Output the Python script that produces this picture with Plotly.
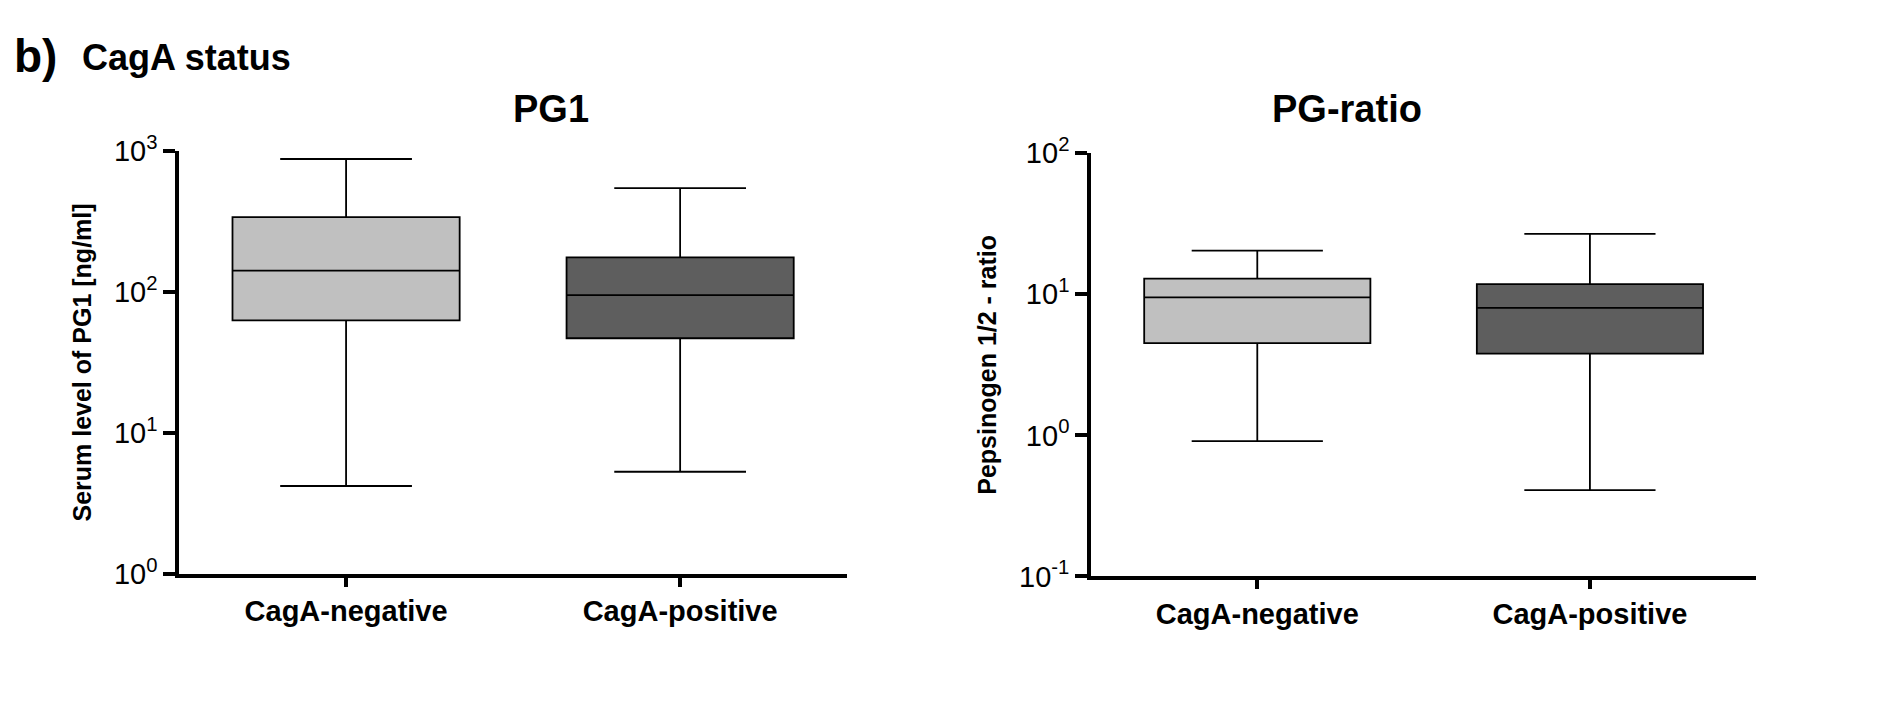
import plotly.graph_objects as go

groups = ["CagA-negative", "CagA-positive"]
colors = ["#c0c0c0", "#5e5e5e"]

# PG1 [ng/ml]
pg1_low = [4.2, 5.3]
pg1_q1 = [63, 47]
pg1_med = [142, 95]
pg1_q3 = [340, 176]
pg1_high = [880, 547]

# PG-ratio
pr_low = [0.91, 0.41]
pr_q1 = [4.5, 3.8]
pr_med = [9.5, 8.0]
pr_q3 = [12.9, 11.8]
pr_high = [20.4, 26.8]

fig = go.Figure()
for i, g in enumerate(groups):
    fig.add_trace(go.Box(x=[g], q1=[pg1_q1[i]], median=[pg1_med[i]], q3=[pg1_q3[i]],
                         lowerfence=[pg1_low[i]], upperfence=[pg1_high[i]],
                         fillcolor=colors[i], line=dict(color="black", width=1.8),
                         width=0.68, whiskerwidth=0.58, xaxis="x", yaxis="y", showlegend=False))
    fig.add_trace(go.Box(x=[g], q1=[pr_q1[i]], median=[pr_med[i]], q3=[pr_q3[i]],
                         lowerfence=[pr_low[i]], upperfence=[pr_high[i]],
                         fillcolor=colors[i], line=dict(color="black", width=1.8),
                         width=0.68, whiskerwidth=0.58, xaxis="x2", yaxis="y2", showlegend=False))

xax = dict(type="category", range=[-0.5, 1.5], showline=True, linecolor="black", linewidth=3.5,
           ticks="outside", ticklen=9, tickwidth=3.5, tickcolor="black",
           tickfont=dict(size=29, color="black"), showgrid=False,
           tickprefix="<b>", ticksuffix="</b>")
yax = dict(type="log", showline=True, linecolor="black", linewidth=3.5, ticks="outside",
           ticklen=12, tickwidth=3.5, tickcolor="black", showgrid=False, zeroline=False,
           tickfont=dict(size=29, color="black"), tickprefix="<b>", ticksuffix="</b>")

fig.update_layout(
    width=1890, height=709, margin=dict(l=0, r=0, t=0, b=0),
    plot_bgcolor="white", paper_bgcolor="white",
    font=dict(family="Liberation Sans", color="black"),
    xaxis=dict(xax, domain=[0.0905, 0.444], anchor="y"),
    xaxis2=dict(xax, domain=[0.573, 0.925], anchor="y2"),
    yaxis=dict(yax, domain=[0.189, 0.817], anchor="x", range=[0, 3],
               tickvals=[1, 10, 100, 1000],
               ticktext=["10<sup>0</sup>", "10<sup>1</sup>", "10<sup>2</sup>", "10<sup>3</sup>"],
               title=dict(text="<b>Serum level of PG1 [ng/ml]</b>", font=dict(size=25), standoff=16)),
    yaxis2=dict(yax, domain=[0.185, 0.814], anchor="x2", range=[-1, 2],
                tickvals=[0.1, 1, 10, 100],
                ticktext=["10<sup>-1</sup>", "10<sup>0</sup>", "10<sup>1</sup>", "10<sup>2</sup>"],
                title=dict(text="<b>Pepsinogen 1/2 - ratio</b>", font=dict(size=25), standoff=16)),
    annotations=[
        dict(text="<b>b)</b>", x=0.002, y=1.0, xref="paper", yref="paper", xanchor="left",
             yanchor="top", showarrow=False, font=dict(size=46)),
        dict(text="<b>CagA status</b>", x=0.038, y=0.99, xref="paper", yref="paper", xanchor="left",
             yanchor="top", showarrow=False, font=dict(size=36)),
        dict(text="<b>PG1</b>", x=0.266, y=0.914, xref="paper", yref="paper",
             showarrow=False, font=dict(size=38)),
        dict(text="<b>PG-ratio</b>", x=0.749, y=0.914, xref="paper", yref="paper",
             showarrow=False, font=dict(size=38)),
    ],
)

fig.write_html("out.html")
